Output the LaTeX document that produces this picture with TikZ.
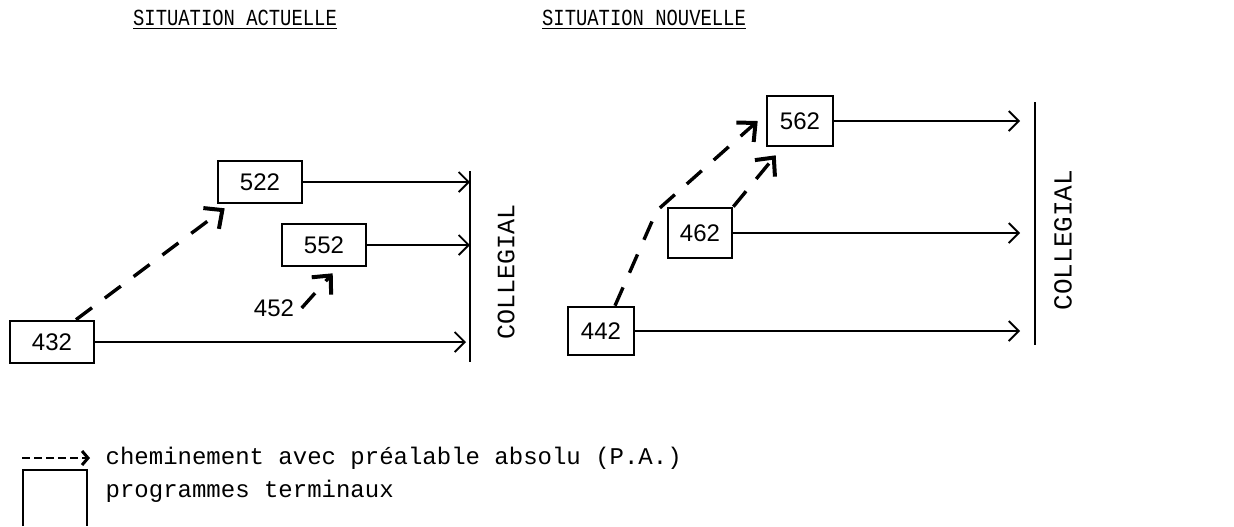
\documentclass[tikz,border=0pt]{standalone}
\usepackage{fontspec}
\setmainfont{Liberation Mono}
\newfontfamily\numfont{Liberation Sans}
\usetikzlibrary{positioning, calc, arrows.meta}

\begin{document}
\begin{tikzpicture}[x=0.5pt, y=-0.5pt, line width=1pt,
    >={Straight Barb[length=5pt, width=10pt]},
    prog/.style={draw, rectangle, line width=1.3pt, inner sep=0pt, minimum height=21pt, font=\numfont\fontsize{12}{12}\selectfont},
    flow/.style={->, line width=0.9pt},
    prereq/.style={-{Straight Barb[length=7pt, width=13pt, line width=2pt, sep=0pt]}, line width=1.7pt, dash pattern=on 10pt off 8pt},
    title/.style={font=\fontsize{11.5}{13}\selectfont},
    level/.style={font=\fontsize{12.5}{14}\selectfont, rotate=90},
    legend/.style={anchor=west, font=\fontsize{12}{14}\selectfont}]
\useasboundingbox (0,0) rectangle (1234,526);

% titres
\node[title] (actuelle) at (235,20) {\scalebox{0.82}[1]{\underline{SITUATION ACTUELLE}}};
\node[title] (nouvelle) at (644,20) {\scalebox{0.82}[1]{\underline{SITUATION NOUVELLE}}};

% situation actuelle
\node[prog, minimum width=42pt] (p432) at (52,342) {432};
\node[prog, minimum width=42pt] (p522) at (260,182) {522};
\node[prog, minimum width=42pt] (p552) at (324,245) {552};
\node[font=\numfont\fontsize{12}{12}\selectfont] (p452) at (274,308) {452};

\coordinate (barLtop) at (470,171);
\coordinate (barLbot) at (470,362);
\draw[line width=1.2pt] (barLtop) -- (barLbot);
\node[level] (collL) at (506,272) {COLLEGIAL};

\draw[flow] (p522.east) -- (p522.east -| barLtop);
\draw[flow] (p552.east) -- (p552.east -| barLtop);
\draw[flow] (p432.east) -- ([xshift=-2pt]p432.east -| barLtop);
\draw[prereq] ([xshift=12pt]p432.north) -- ([xshift=4pt,yshift=-2pt]p522.south west);
\draw[prereq] (p452.east) -- ([xshift=26pt,yshift=-3pt]p552.south west);

% situation nouvelle
\node[prog, minimum width=33pt, minimum height=24pt] (p442) at (601,331) {442};
\node[prog, minimum width=32pt, minimum height=25pt] (p462) at (700,233) {462};
\node[prog, minimum width=33pt, minimum height=25pt] (p562) at (800,121) {562};

\coordinate (barRtop) at (1035,102);
\coordinate (barRbot) at (1035,345);
\coordinate (endR) at (1020,0);
\draw[line width=1.2pt] (barRtop) -- (barRbot);
\node[level, font=\fontsize{13}{14}\selectfont] (collR) at (1063,240) {COLLEGIAL};

\draw[flow] (p562.east) -- (p562.east -| endR);
\draw[flow] (p462.east) -- (p462.east -| endR);
\draw[flow] (p442.east) -- (p442.east -| endR);
\draw[prereq] ([xshift=7pt]p442.north) -- ([xshift=-5pt,yshift=-2pt]p462.north west) -- ([xshift=-4pt]p562.west);
\draw[prereq] (p462.north east) -- ([xshift=5pt,yshift=-4pt]p562.south west);

% legende
\coordinate (legA) at (22,458);
\coordinate (legB) at (90,458);
\draw[-{Straight Barb[length=3pt, width=7pt, line width=1.5pt]}, line width=1pt, dash pattern=on 4pt off 2pt] (legA) -- (legB);
\node[legend] (legtext1) at (98,458) {cheminement avec préalable absolu (P.A.)};
\coordinate (boxBL) at (23,526);
\coordinate (boxTR) at (87,470);
\draw[line width=1.2pt] (boxBL) |- (boxTR) -- (boxTR |- boxBL);
\node[legend] (legtext2) at (98,491) {programmes terminaux};

\end{tikzpicture}
\end{document}
